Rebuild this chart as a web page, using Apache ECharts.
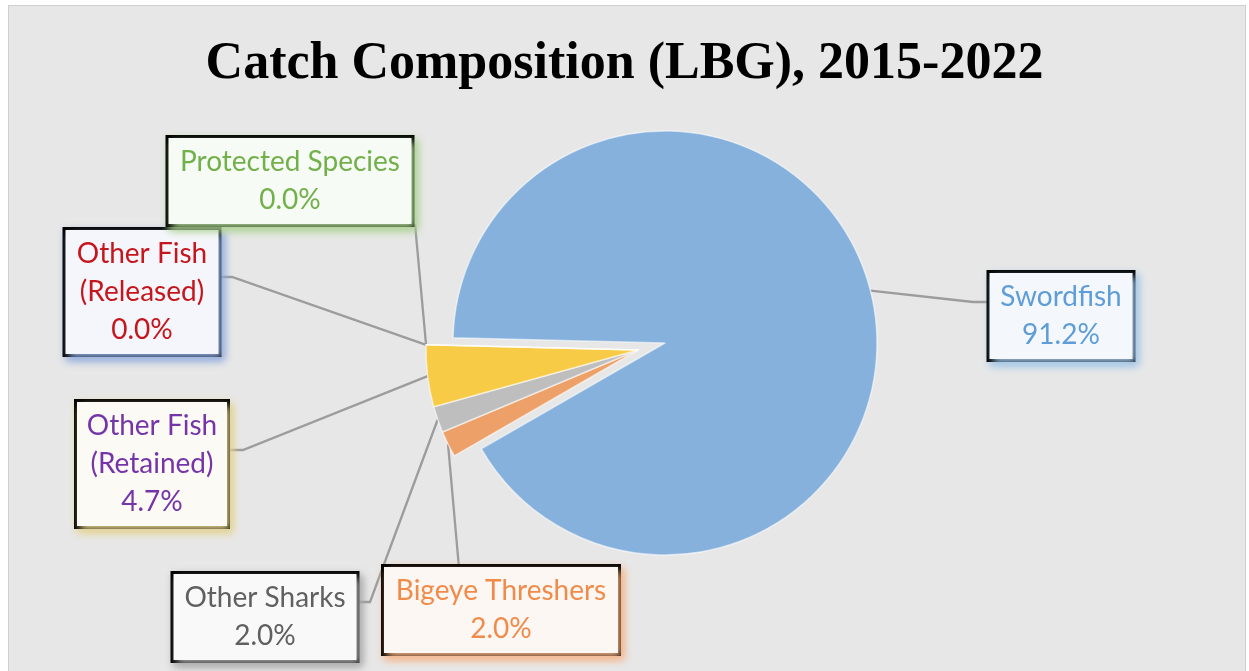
<!DOCTYPE html>
<html>
<head>
<meta charset="utf-8">
<script src="https://cdn.jsdelivr.net/npm/echarts@6/dist/echarts.min.js"></script>
<style>
  html, body { margin: 0; padding: 0; background: #fff; }
  #panel {
    position: absolute; left: 8px; top: 5px; width: 1238px; height: 670px;
    box-sizing: border-box; border: 1px solid #cfcfcf; background: #e7e7e7;
  }
  #chart { position: absolute; left: 0; top: 0; width: 1249px; height: 671px; }
</style>
</head>
<body>
<div id="panel"></div>
<div id="chart"></div>
<script>
// catch share by species group, percent
var categories = ['Swordfish', 'Bigeye Threshers', 'Other Sharks',
  'Other Fish (Retained)', 'Other Fish (Released)', 'Protected Species'];
var shares = [91.2, 2.0, 2.0, 4.7, 0.0, 0.0];

var sliceColors = ['#85b1dc', '#eda068', '#bebebe', '#f8cb46', '#d9302f', '#7fb85a'];
var textColors = ['#5e9dd8', '#f08b4a', '#606060', '#7534a8', '#c5161d', '#72b04a'];
var boxFills = ['#f4f8fd', '#fdf7f3', '#f9f9f9', '#fcfaf4', '#f5f6fb', '#f7fbf5'];
var glowColors = ['#9dc3e6', '#f4b183', '#a6a6a6', '#e2d18c', '#8ea9db', '#a9d08e'];

// where each callout box sits: centre, width, line end on the box, elbow
var boxLayout = [
  { cx: 1061, cy: 316, w: 143, anchor: [989, 302], elbow: [973, 302] },
  { cx: 501, cy: 610, w: 234, anchor: [459, 568], elbow: [459, 568] },
  { cx: 265, cy: 617, w: 183, anchor: [358, 602], elbow: [370, 602] },
  { cx: 152, cy: 464, w: 150, anchor: [228, 450], elbow: [243, 450] },
  { cx: 142, cy: 292, w: 153, anchor: [220, 277], elbow: [232, 277] },
  { cx: 290, cy: 181, w: 243, anchor: [415, 224], elbow: [415, 224] }
];

var chart = echarts.init(document.getElementById('chart'));

// same data in two pies: the main one draws swordfish, the pulled-out one the rest
function buildData(showMain) {
  return categories.map(function (name, i) {
    var visible = showMain ? i === 0 : i > 0;
    return {
      name: name,
      value: shares[i],
      itemStyle: visible
        ? { color: sliceColors[i] }
        : { color: 'rgba(0,0,0,0)', borderWidth: 0 },
      label: {
        show: visible,
        color: textColors[i],
        backgroundColor: boxFills[i],
        width: boxLayout[i].w,
        shadowColor: glowColors[i]
      },
      labelLine: { show: visible }
    };
  });
}

function baseSeries(center, showMain) {
  return {
    type: 'pie',
    center: center,
    radius: 212,
    startAngle: 178.6,
    clockwise: true,
    silent: true,
    avoidLabelOverlap: false,
    itemStyle: { borderColor: 'rgba(255,255,255,0.55)', borderWidth: 1.5 },
    emphasis: { disabled: true },
    label: {
      position: 'outside',
      fontFamily: 'Lato',
      fontSize: 28,
      lineHeight: 38,
      align: 'center',
      padding: [5, 0],
      borderColor: '#000',
      borderWidth: 3,
      shadowBlur: 8,
      shadowOffsetX: 3,
      shadowOffsetY: 4,
      formatter: function (p) {
        return p.name.replace(' (', '\n(') + '\n' + p.value.toFixed(1) + '%';
      }
    },
    labelLine: {
      length: 10,
      length2: 10,
      lineStyle: { color: '#9c9c9c', width: 2.3 }
    },
    labelLayout: function (p) {
      var b = boxLayout[p.dataIndex];
      var start = p.labelLinePoints ? p.labelLinePoints[0] : b.elbow;
      return {
        x: b.cx,
        y: b.cy,
        align: 'center',
        verticalAlign: 'middle',
        labelLinePoints: [start, b.elbow, b.anchor]
      };
    },
    data: buildData(showMain)
  };
}

var option = {
  animation: false,
  title: {
    text: 'Catch Composition (LBG), 2015-2022',
    left: 'center',
    top: 34,
    textStyle: {
      fontFamily: 'Liberation Serif',
      fontSize: 52,
      fontWeight: 'bold',
      color: '#000'
    }
  },
  series: [
    baseSeries([665, 343], true),
    baseSeries([638, 350], false)
  ]
};

chart.setOption(option);
</script>
</body>
</html>
